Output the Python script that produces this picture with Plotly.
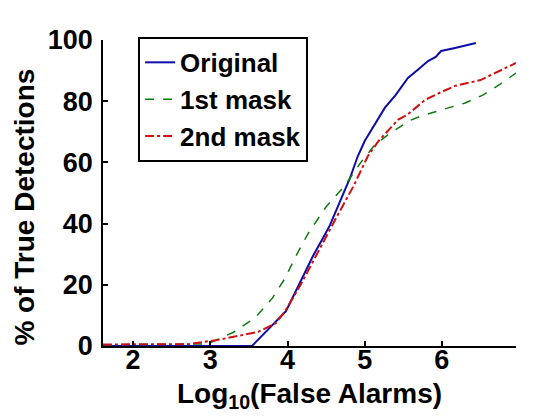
import plotly.graph_objects as go

# Data
orig_x = [1.61, 3.54, 3.98, 4.33, 4.46, 4.55, 4.81, 4.91, 5.0, 5.13, 5.26, 5.4, 5.56, 5.7, 5.82, 5.92, 5.99, 6.17, 6.3, 6.44]
orig_y = [0, 0, 11.4, 29.4, 35.3, 39.5, 54.9, 62.0, 67.0, 72.5, 77.8, 82.0, 87.6, 90.5, 93.1, 94.5, 96.4, 97.4, 98.2, 99.0]

mask1_x = [1.61, 2.5, 2.97, 3.3, 3.58, 3.8, 3.97, 4.1, 4.23, 4.27, 4.5, 4.74, 4.95, 5.13, 5.3, 5.43, 5.57, 5.73, 5.9, 6.08, 6.3, 6.53, 6.75, 6.96]
mask1_y = [0.4, 0.5, 0.7, 4.5, 9.2, 15.5, 22.2, 29.0, 35.3, 36.9, 45.5, 52.3, 60.0, 65.7, 69.0, 71.2, 73.5, 75.2, 76.5, 77.8, 79.4, 82.0, 85.5, 89.2]

mask2_x = [1.61, 2.71, 3.1, 3.62, 3.85, 3.97, 4.17, 4.42, 4.65, 4.85, 5.04, 5.18, 5.30, 5.43, 5.55, 5.78, 5.95, 6.17, 6.5, 6.96]
mask2_y = [0.5, 0.6, 2.0, 4.6, 7.5, 11.4, 20.0, 32.0, 42.8, 52.0, 62.0, 67.0, 70.3, 73.9, 75.5, 80.4, 82.5, 85.0, 86.9, 92.5]

x_ticks = [2, 3, 4, 5, 6]
y_ticks = [0, 20, 40, 60, 80, 100]

FONT = "Liberation Sans, Arial, sans-serif"
TICK_SIZE = 27
TITLE_SIZE = 28
LEGEND_SIZE = 26

fig = go.Figure()
fig.add_trace(go.Scatter(x=orig_x, y=orig_y, mode="lines", name="Original",
                         line=dict(color="#0c0ca8", width=2, dash="solid")))
fig.add_trace(go.Scatter(x=mask1_x, y=mask1_y, mode="lines", name="1st mask",
                         line=dict(color="#107a10", width=1.5, dash="dash")))
fig.add_trace(go.Scatter(x=mask2_x, y=mask2_y, mode="lines", name="2nd mask",
                         line=dict(color="#d01010", width=2, dash="dashdot")))

fig.update_layout(
    width=560, height=420,
    margin=dict(l=95, r=52, t=32, b=82),
    paper_bgcolor="white", plot_bgcolor="white",
    font=dict(family=FONT, size=26, color="black", weight="bold"),
    showlegend=True,
    legend=dict(x=0.085, y=1.01, xanchor="left", yanchor="top",
                bgcolor="white", bordercolor="black", borderwidth=2,
                font=dict(family=FONT, size=LEGEND_SIZE, color="black", weight="bold"),
                tracegroupgap=0),
    xaxis=dict(range=[1.61, 6.96], tickvals=x_ticks, ticktext=[str(v) for v in x_ticks],
               ticks="inside", ticklen=5, tickwidth=1.5, tickcolor="black",
               ticklabelstandoff=-11,
               showline=True, linecolor="black", linewidth=1.5, mirror=False,
               showgrid=False, zeroline=False,
               tickfont=dict(family=FONT, size=TICK_SIZE, color="black", weight="bold")),
    yaxis=dict(range=[0, 100], tickvals=y_ticks, ticktext=[str(v) for v in y_ticks],
               ticks="inside", ticklen=5, tickwidth=1.5, tickcolor="black",
               ticklabelstandoff=3,
               showline=True, linecolor="black", linewidth=1.5, mirror=False,
               showgrid=False, zeroline=False,
               tickfont=dict(family=FONT, size=TICK_SIZE, color="black", weight="bold")),
    annotations=[
        dict(text="% of True Detections", xref="paper", yref="paper",
             x=-0.19, y=0.454, xanchor="center", yanchor="middle",
             textangle=-90, showarrow=False,
             font=dict(family=FONT, size=TITLE_SIZE, color="black", weight="bold")),
        dict(text="Log<sub>10</sub>(False Alarms)", xref="paper", yref="paper",
             x=0.5, y=-0.098, xanchor="center", yanchor="top",
             showarrow=False,
             font=dict(family=FONT, size=TITLE_SIZE, color="black", weight="bold")),
    ],
)

fig.write_html("out.html")
